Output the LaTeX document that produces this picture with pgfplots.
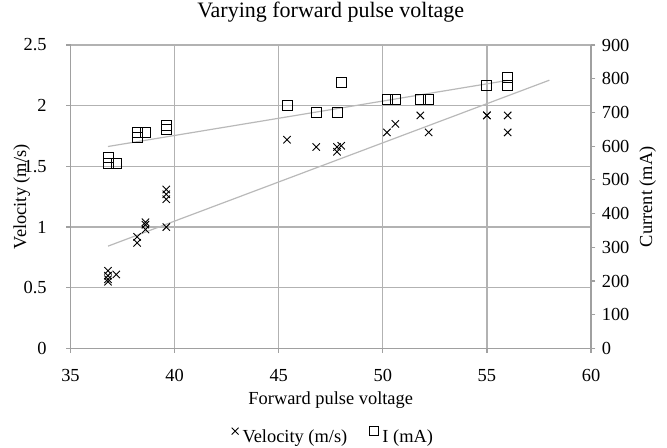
\documentclass[border=0pt]{standalone}
\usepackage{fontspec}
\setmainfont{Liberation Serif}
\usepackage{pgfplots}
\pgfplotsset{compat=1.18}
\definecolor{gridc}{RGB}{178,178,178}
\definecolor{axc}{RGB}{160,160,160}
\definecolor{trend}{RGB}{185,185,185}
\begin{document}
\begin{tikzpicture}
\useasboundingbox (0pt,0pt) rectangle (333.5pt,224pt);
\pgfplotsset{every axis/.append style={font=\fontsize{9.2}{11}\selectfont},
  /pgf/number format/assume math mode=true}
\begin{axis}[at={(35.25pt,49.75pt)}, anchor=south west, scale only axis,
  width=260.25pt, height=151.75pt,
  xmin=35, xmax=60, ymin=0, ymax=2.5,
  xtick={35,40,45,50,55,60}, ytick={0,0.5,1,1.5,2,2.5},
  yticklabels={0,0.5,1,1.5,2,2.5},
  axis y line*=left, axis x line*=bottom,
  axis line style={axc, line width=0.6pt, -},
  grid=major, major grid style={gridc, line width=0.6pt},
  tick style={axc, line width=0.6pt}, tick align=outside, major tick length=2.2pt,
  xticklabel style={anchor=base, yshift=-14.5pt},
  yticklabel style={anchor=east, inner sep=0pt, xshift=-9.5pt},
  title={Varying forward pulse voltage},
  title style={font=\fontsize{11}{13}\selectfont, anchor=base, at={(axis description cs:0.5,1)}, yshift=7.5pt},
  xlabel={Forward pulse voltage},
  xlabel style={anchor=base, at={(axis description cs:0.5,0)}, yshift=-27.8pt},
  ylabel={Velocity (m/s)},
  ylabel style={anchor=center, at={(axis description cs:-0.0938,0.5)}},
  legend style={draw=none, fill=none, at={(axis description cs:0.507,-0.292)}, anchor=center,
    legend columns=2, inner sep=0pt, font=\fontsize{9.2}{11}\selectfont,
    /tikz/every even column/.append style={column sep=9pt}},
  legend image code/.code={\draw[#1] plot coordinates {(0pt,3pt)};},
]
\addlegendimage{only marks, mark=x, mark size=2.4pt, black, line width=0.45pt}
\addlegendentry{Velocity (m/s)}
\addlegendimage{only marks, mark=square, mark size=2.3pt, black, line width=0.45pt}
\addlegendentry{I (mA)}
\addplot[forget plot, trend, line width=0.6pt] coordinates {(36.8,0.843) (58,2.21)};
\addplot[forget plot, only marks, mark=x, mark size=2.6pt, black, line width=0.45pt] coordinates {
(36.8,0.64) (36.8,0.60) (36.8,0.57) (36.8,0.55) (37.2,0.61)
(38.2,0.92) (38.2,0.87) (38.6,1.04) (38.6,1.02) (38.6,0.98)
(39.6,1.31) (39.6,1.27) (39.6,1.23) (39.6,1.00)
(45.4,1.72) (46.8,1.66) (47.8,1.66) (47.8,1.62) (48.0,1.67)
(50.2,1.78) (50.6,1.85) (51.8,1.92) (52.2,1.78)
(55.0,1.92) (55.0,1.92) (56.0,1.92) (56.0,1.78)
};
\end{axis}
\begin{axis}[at={(35.25pt,49.75pt)}, anchor=south west, scale only axis,
  width=260.25pt, height=151.75pt,
  xmin=35, xmax=60, ymin=0, ymax=900,
  ytick={0,100,...,900},
  axis y line*=right, axis x line=none,
  axis line style={axc, line width=0.6pt, -},
  tick style={axc, line width=0.6pt}, tick align=outside, major tick length=2.2pt,
  yticklabel style={anchor=west, inner sep=0pt, xshift=3pt},
  ylabel={Current (mA)},
  ylabel style={anchor=center, at={(axis description cs:1.1089,0.5)}},
]
\addplot[trend, line width=0.6pt] coordinates {(36.8,599) (56,795)};
\addplot[only marks, mark=square, mark size=2.5pt, black, line width=0.45pt] coordinates {
(36.8,566) (36.8,550) (37.2,550) (38.2,642) (38.2,627) (38.6,642)
(39.6,662) (39.6,649) (45.4,721) (46.8,700) (47.8,700) (48.0,788)
(50.2,738) (50.6,738) (51.8,738) (52.2,738) (55.0,780) (56.0,805) (56.0,780)
};
\end{axis}
\end{tikzpicture}
\end{document}
